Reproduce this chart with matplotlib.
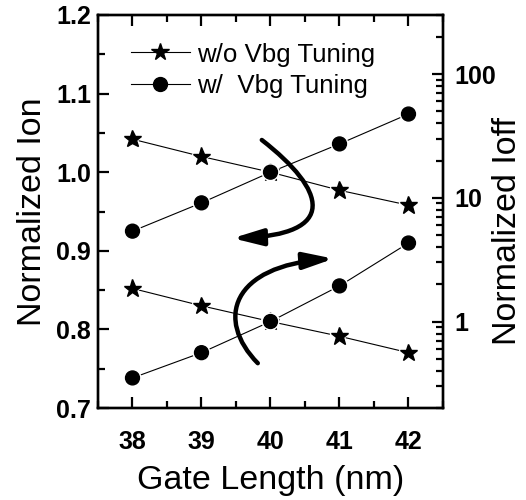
import matplotlib
matplotlib.use("Agg")
import matplotlib.pyplot as plt
import matplotlib.patheffects as pe
from matplotlib.path import Path
from matplotlib.patches import FancyArrowPatch
from matplotlib.lines import Line2D

gate_len = [38, 39, 40, 41, 42]
ion_wo = [1.042, 1.020, 1.000, 0.977, 0.958]
ion_w = [0.925, 0.961, 1.000, 1.036, 1.074]
ioff_wo = [1.85, 1.34, 1.00, 0.76, 0.56]
ioff_w = [0.35, 0.56, 1.00, 1.94, 4.31]

plt.rcParams.update({"font.family": "Liberation Sans"})

fig = plt.figure(figsize=(5.26, 5.0), dpi=100)
ax = fig.add_axes([0.1863, 0.184, 0.6559, 0.786])
ax2 = ax.twinx()

halo = [pe.withStroke(linewidth=3, foreground="white")]


def series(a, x, y, marker, ms):
    a.plot(x, y, color="black", lw=0.8, zorder=2)
    a.plot(x, y, ls="none", marker=marker, ms=ms, color="black",
           path_effects=halo, zorder=3)


series(ax, gate_len, ion_wo, "*", 13)
series(ax, gate_len, ion_w, "o", 10)
series(ax2, gate_len, ioff_wo, "*", 13)
series(ax2, gate_len, ioff_w, "o", 10)

ax.set_xlim(37.5, 42.5)
ax.set_ylim(0.7, 1.2)
ax.set_xticks(gate_len)
ax.set_xticks([37.5 + 0.5 * i for i in range(11)], minor=True)
ax.set_yticks([0.7, 0.8, 0.9, 1.0, 1.1, 1.2])
ax.set_yticks([0.75, 0.85, 0.95, 1.05, 1.15], minor=True)
ax.set_yticklabels(["0.7", "0.8", "0.9", "1.0", "1.1", "1.2"])
ax.tick_params(which="both", direction="in", top=True, width=1.6)
ax.tick_params(which="major", length=8)
ax.tick_params(which="minor", length=5)
ax.tick_params(axis="x", pad=16)
ax.tick_params(axis="y", pad=5)
for lab in ax.get_xticklabels() + ax.get_yticklabels():
    lab.set_fontsize(18)
    lab.set_fontweight("bold")

ax2.set_yscale("log")
ax2.set_ylim(0.2, 300)
ax2.set_yticks([1, 10, 100])
ax2.set_yticklabels(["1", "10", "100"])
ax2.tick_params(which="both", direction="in", width=1.6, pad=8)
ax2.tick_params(which="major", length=8)
ax2.tick_params(which="minor", length=5)
for lab in ax2.get_yticklabels():
    lab.set_fontsize(18)
    lab.set_fontweight("bold")

for a in (ax, ax2):
    for s in a.spines.values():
        s.set_linewidth(1.7)

ax.set_xlabel("Gate Length (nm)", fontsize=24.5, labelpad=8)
ax.set_ylabel("Normalized Ion", fontsize=24.5, labelpad=6)
ax2.set_ylabel("Normalized Ioff", fontsize=24.5)
ax2.yaxis.set_label_coords(1.142, 0.45)

# curved arrows (cubic bezier in data coords of the left axis)
arrows = [
    [(39.874, 1.041), (40.811, 0.977), (41.001, 0.920), (39.45, 0.916)],
    [(39.816, 0.757), (39.201, 0.812), (39.420, 0.881), (40.914, 0.890)],
]
for pts in arrows:
    p = Path(pts, [Path.MOVETO, Path.CURVE4, Path.CURVE4, Path.CURVE4])
    arr = FancyArrowPatch(path=p, arrowstyle="-|>,head_length=0.9,head_width=0.25",
                          mutation_scale=20, lw=3.2, color="black", zorder=4,
                          shrinkA=0, shrinkB=0)
    ax.add_patch(arr)

handles = [Line2D([], [], color="black", lw=0.8, marker="*", ms=13),
           Line2D([], [], color="black", lw=0.8, marker="o", ms=10)]
ax.legend(handles, ["w/o Vbg Tuning", "w/  Vbg Tuning"], loc="upper left",
          bbox_to_anchor=(0.095, 0.93), frameon=False, fontsize=18.6,
          handlelength=2.3, handletextpad=0.25, labelspacing=0.3, borderpad=0,
          borderaxespad=0)

fig.savefig("out.png", dpi=100)
